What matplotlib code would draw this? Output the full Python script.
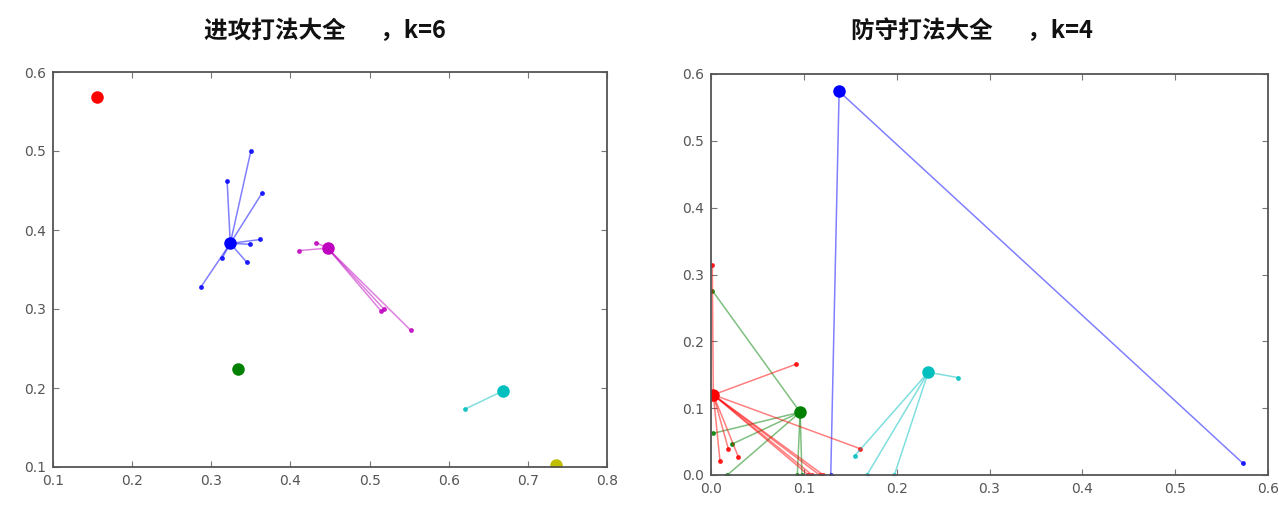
import matplotlib
matplotlib.use("Agg")
import matplotlib.pyplot as plt
import numpy as np

plt.rcParams['font.family'] = ['Noto Sans CJK SC', 'DejaVu Sans']

# ---- 进攻打法 (k=6) ----
atk_colors = ['r', 'b', 'g', 'm', 'c', 'y']
atk_center_x = [0.156, 0.324, 0.334, 0.447, 0.668, 0.735]
atk_center_y = [0.568, 0.383, 0.224, 0.377, 0.196, 0.1025]
atk_member_x = [
    [],
    [0.350, 0.320, 0.364, 0.362, 0.349, 0.345, 0.314, 0.287],
    [],
    [0.411, 0.4325, 0.518, 0.515, 0.552],
    [0.620],
    [],
]
atk_member_y = [
    [],
    [0.500, 0.462, 0.4465, 0.388, 0.382, 0.359, 0.365, 0.328],
    [],
    [0.374, 0.384, 0.300, 0.297, 0.273],
    [0.173],
    [],
]

# ---- 防守打法 (k=4) ----
def_colors = ['b', 'g', 'r', 'c']
def_center_x = [0.138, 0.096, 0.0025, 0.234]
def_center_y = [0.574, 0.094, 0.120, 0.1537]
def_member_x = [
    [0.573, 0.129],
    [0.0014, 0.0025, 0.0223, 0.0176, 0.093, 0.098],
    [0.0014, 0.092, 0.1606, 0.0097, 0.0187, 0.0295, 0.105, 0.109, 0.117, 0.121],
    [0.2665, 0.155, 0.168, 0.1975],
]
def_member_y = [
    [0.0175, 0.0],
    [0.276, 0.0624, 0.046, 0.0, 0.0, 0.0],
    [0.314, 0.166, 0.0394, 0.021, 0.039, 0.027, 0.0, 0.0, 0.0, 0.0],
    [0.1457, 0.029, 0.0, 0.0],
]

fig = plt.figure(figsize=(12.79, 5.05), dpi=100)
ax1 = fig.add_axes([53 / 1279, 38 / 505, 554 / 1279, 395 / 505])
ax2 = fig.add_axes([711 / 1279, 30 / 505, 557 / 1279, 401 / 505])


def draw_clusters(ax, colors, cx, cy, mx, my):
    for col, x0, y0, xs, ys in zip(colors, cx, cy, mx, my):
        for x, y in zip(xs, ys):
            ax.plot([x, x0], [y, y0], '-', color=col, lw=1.1, alpha=0.5)
            ax.plot(x, y, '.', color=col, ms=5, alpha=0.8)
        ax.plot(x0, y0, 'o', color=col, mec=col, ms=8)


def style_axes(ax, xlim, ylim, xticks, yticks):
    ax.set_xlim(*xlim)
    ax.set_ylim(*ylim)
    ax.set_xticks(xticks)
    ax.set_yticks(yticks)
    ax.set_xticklabels([f"{t:.1f}" for t in xticks], fontfamily='DejaVu Sans')
    ax.set_yticklabels([f"{t:.1f}" for t in yticks], fontfamily='DejaVu Sans')
    for s in ax.spines.values():
        s.set_color('#555555')
        s.set_linewidth(1.3)
    ax.tick_params(direction='in', length=4, width=0.8, color='#777777',
                   labelsize=10, labelcolor='#555555', top=True, right=True,
                   pad=5)


draw_clusters(ax1, atk_colors, atk_center_x, atk_center_y, atk_member_x, atk_member_y)
draw_clusters(ax2, def_colors, def_center_x, def_center_y, def_member_x, def_member_y)

style_axes(ax1, (0.1, 0.8), (0.1, 0.6), np.round(np.arange(0.1, 0.81, 0.1), 1),
           np.round(np.arange(0.1, 0.61, 0.1), 1))
style_axes(ax2, (0.0, 0.6), (0.0, 0.6), np.round(np.arange(0.0, 0.61, 0.1), 1),
           np.round(np.arange(0.0, 0.61, 0.1), 1))

fig.text(325 / 1279, 1 - 31 / 505, "进攻打法大全\u3000  ，k=6", ha='center', va='center',
         fontsize=17, fontweight='bold', color='#111111')
fig.text(972 / 1279, 1 - 31 / 505, "防守打法大全\u3000  ，k=4", ha='center', va='center',
         fontsize=17, fontweight='bold', color='#111111')

fig.savefig("out.png", dpi=100)
